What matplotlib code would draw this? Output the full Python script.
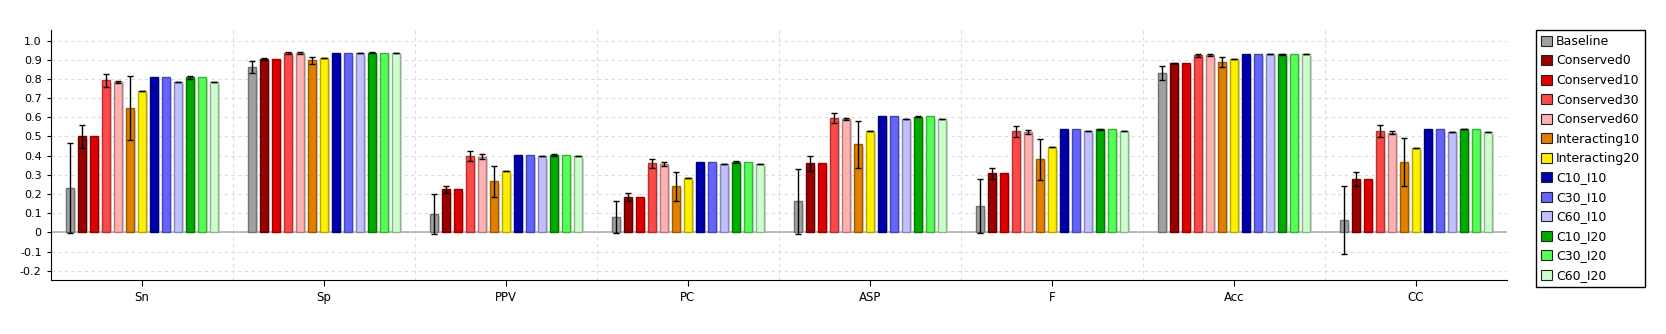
import numpy as np
import matplotlib
matplotlib.use("Agg")
import matplotlib.pyplot as plt
from matplotlib.patches import Patch
from matplotlib.ticker import FuncFormatter, FixedLocator
import matplotlib.colors as mcolors

metrics = ["Sn", "Sp", "PPV", "PC", "ASP", "F", "Acc", "CC"]

series = ["Baseline", "Conserved0", "Conserved10", "Conserved30", "Conserved60",
          "Interacting10", "Interacting20", "C10_I10", "C30_I10", "C60_I10",
          "C10_I20", "C30_I20", "C60_I20"]

colors = ["#a0a0a0", "#990000", "#dd0000", "#ff4848", "#ffb0b0",
          "#e08000", "#fff000", "#0000aa", "#6464ff", "#c0c0ff",
          "#00aa00", "#55ff55", "#ccffcc"]

# values per series, one entry per metric (Sn, Sp, PPV, PC, ASP, F, Acc, CC)
baseline = [0.230, 0.861, 0.096, 0.078, 0.162, 0.136, 0.830, 0.063]
conserved0 = [0.500, 0.903, 0.224, 0.183, 0.360, 0.308, 0.882, 0.277]
conserved10 = [0.500, 0.903, 0.224, 0.183, 0.360, 0.308, 0.882, 0.277]
conserved30 = [0.793, 0.934, 0.397, 0.360, 0.595, 0.527, 0.923, 0.527]
conserved60 = [0.784, 0.934, 0.393, 0.355, 0.590, 0.522, 0.923, 0.520]
interacting10 = [0.647, 0.897, 0.266, 0.240, 0.459, 0.381, 0.887, 0.365]
interacting20 = [0.736, 0.911, 0.318, 0.282, 0.527, 0.443, 0.903, 0.440]
c10_i10 = [0.809, 0.934, 0.402, 0.365, 0.605, 0.537, 0.929, 0.537]
c30_i10 = [0.809, 0.934, 0.402, 0.365, 0.605, 0.537, 0.929, 0.537]
c60_i10 = [0.783, 0.934, 0.397, 0.355, 0.590, 0.527, 0.929, 0.522]
c10_i20 = [0.809, 0.936, 0.402, 0.367, 0.604, 0.537, 0.929, 0.537]
c30_i20 = [0.809, 0.934, 0.402, 0.365, 0.605, 0.537, 0.929, 0.537]
c60_i20 = [0.783, 0.934, 0.397, 0.355, 0.590, 0.527, 0.929, 0.522]

# error bar half-widths (None = no error bar drawn)
err_baseline = [0.235, 0.030, 0.103, 0.083, 0.170, 0.140, 0.038, 0.178]
err_conserved0 = [0.060, 0.004, 0.020, 0.022, 0.040, 0.030, 0.003, 0.036]
err_conserved30 = [0.034, 0.004, 0.027, 0.022, 0.027, 0.029, 0.007, 0.032]
err_conserved60 = [0.005, 0.004, 0.013, 0.010, 0.005, 0.011, 0.005, 0.007]
err_interacting10 = [0.166, 0.018, 0.081, 0.077, 0.122, 0.107, 0.026, 0.125]
err_zero = [0.0] * 8
err_c10_i20 = [0.008, 0.003, 0.004, 0.003, 0.003, 0.003, 0.003, 0.0]

values = [baseline, conserved0, conserved10, conserved30, conserved60,
          interacting10, interacting20, c10_i10, c30_i10, c60_i10,
          c10_i20, c30_i20, c60_i20]
errors = [err_baseline, err_conserved0, None, err_conserved30, err_conserved60,
          err_interacting10, err_zero, None, None, err_zero,
          err_c10_i20, None, err_zero]

fig = plt.figure(figsize=(16.66, 3.34), dpi=100)
ax = fig.add_axes([50.7 / 1666, 1 - 280.3 / 334, 1456 / 1666, 250.3 / 334])

x = np.arange(len(metrics))
step = 12 / 182
width = 8.3 / 182
n = len(series)

for i, (name, vals, col, err) in enumerate(zip(series, values, colors, errors)):
    pos = x + (i - (n - 1) / 2) * step
    vals = np.array(vals)
    edge = tuple(c * 0.7 for c in mcolors.to_rgb(col))
    # soft shadow
    ax.bar(pos + 2.2 / 182, vals - 0.012, width, color="#d8d8d8",
           edgecolor="none", zorder=1)
    ax.bar(pos, vals, width, color=col, edgecolor=edge, linewidth=1.0,
           zorder=2, label=name)
    if err is not None:
        ax.errorbar(pos, vals, yerr=err, fmt="none", ecolor="black",
                    elinewidth=1.0, capsize=2.2, capthick=1.0, zorder=3)

ax.axhline(0, color="#b0b0b0", linewidth=1.2, zorder=1.5)

ax.set_xlim(-0.5, len(metrics) - 0.5)
ax.set_ylim(-0.25, 1.055)
ax.set_xticks(x)
ax.set_xticklabels(metrics, fontsize=8.5)
ax.xaxis.set_minor_locator(FixedLocator(np.arange(0.5, len(metrics) - 1, 1.0)))
ax.yaxis.set_major_locator(FixedLocator(np.round(np.arange(-0.2, 1.01, 0.1), 1)))
ax.yaxis.set_major_formatter(FuncFormatter(lambda v, p: "0" if abs(v) < 1e-9 else "%.1f" % v))
ax.tick_params(axis="y", labelsize=8, length=3, direction="out")
ax.tick_params(axis="x", which="major", length=4, direction="out")
ax.tick_params(axis="x", which="minor", length=0)

ax.grid(True, axis="y", which="major", linestyle=(0, (3, 3)), color="#dcdcdc", linewidth=0.8)
ax.grid(True, axis="x", which="minor", linestyle=(0, (3, 3)), color="#dcdcdc", linewidth=0.8)
ax.set_axisbelow(True)

for s in ["top", "right"]:
    ax.spines[s].set_visible(False)

handles = [Patch(facecolor=c, edgecolor="#222222", linewidth=0.8) for c in colors]
leg = fig.legend(handles, series, loc="upper left",
                 bbox_to_anchor=(1536 / 1666, 1 - 30 / 334),
                 fontsize=9, fancybox=False, edgecolor="black", framealpha=1,
                 handlelength=0.9, handleheight=0.9, handletextpad=0.3,
                 labelspacing=0.52, borderpad=0.4, borderaxespad=0)
leg.get_frame().set_linewidth(1.0)

fig.savefig("out.png", dpi=100)
